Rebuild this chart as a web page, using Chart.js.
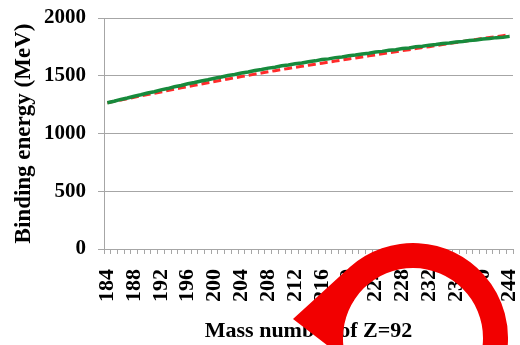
<!DOCTYPE html>
<html>
<head>
<meta charset="utf-8">
<script src="https://cdn.jsdelivr.net/npm/chart.js@4/dist/chart.umd.min.js"></script>
<style>
	html, body { margin: 0; padding: 0; background: #fff; }
	#wrap { width: 520px; height: 345px; position: relative; }
</style>
</head>
<body>
<div id="wrap"><canvas id="bindingplot" width="520" height="345"></canvas></div>
<script>
// Mass numbers for Z=92 (x categories)
const massNumbers = [];
for (let a = 184; a <= 244; a++) massNumbers.push(a);

// Binding energy (MeV) - solid green line
const bindingGreen = [
	1266, 1279, 1295, 1307, 1323, 1335, 1351, 1362, 1378, 1389,
	1405, 1416, 1431, 1441, 1455, 1465, 1479, 1489, 1502, 1511,
	1524, 1533, 1546, 1554, 1566, 1574, 1586, 1593, 1604, 1611,
	1622, 1629, 1640, 1646, 1657, 1663, 1673, 1679, 1689, 1695,
	1705, 1711, 1721, 1726, 1736, 1741, 1751, 1756, 1765, 1770,
	1779, 1784, 1792, 1797, 1805, 1809, 1818, 1822, 1830, 1834,
	1841
];

// Binding energy (MeV) - dashed red line
const bindingRed = [
	1266, 1278, 1290, 1302, 1314, 1326, 1337, 1349, 1360, 1372,
	1383, 1395, 1406, 1417, 1428, 1439, 1450, 1461, 1472, 1482,
	1493, 1503, 1514, 1524, 1534, 1544, 1554, 1563, 1573, 1582,
	1591, 1600, 1609, 1618, 1627, 1636, 1645, 1654, 1663, 1672,
	1681, 1690, 1699, 1708, 1717, 1726, 1735, 1744, 1752, 1761,
	1770, 1779, 1788, 1797, 1806, 1815, 1823, 1831, 1839, 1847,
	1855
];

const yTicks = [0, 500, 1000, 1500, 2000];

const axisColor = '#a6a6a6';
const textColor = '#000000';
Chart.defaults.font.family = "'Liberation Serif', 'Times New Roman', serif";
Chart.defaults.font.weight = 'bold';
Chart.defaults.color = textColor;

// Red overlay shape drawn over the lower right of the picture
const overlayPlugin = {
	id: 'overlay',
	afterDraw(chart) {
		const ctx = chart.ctx;
		const cx = 413, cy = 338, rOut = 95, rIn = 70;
		ctx.save();
		ctx.fillStyle = '#f20000';
		ctx.beginPath();
		ctx.moveTo(293, 319);
		ctx.lineTo(cx + rOut * Math.cos(-2.297), cy + rOut * Math.sin(-2.297));
		ctx.arc(cx, cy, rOut, -2.297, 0.2, false);
		ctx.lineTo(cx + rIn * Math.cos(0.2), cy + rIn * Math.sin(0.2));
		ctx.arc(cx, cy, rIn, 0.2, 2.82 - 2 * Math.PI, true);
		ctx.closePath();
		ctx.fill();
		ctx.restore();
	}
};

var bindingplot = new Chart("bindingplot", {
	type: "line",
	data: {
		labels: massNumbers,
		datasets: [{
			data: bindingGreen,
			borderColor: '#178a3c',
			borderWidth: 3.5,
			pointRadius: 0,
			fill: false,
			tension: 0
		}, {
			data: bindingRed,
			borderColor: '#ff2b2b',
			borderWidth: 3,
			borderDash: [8, 4],
			pointRadius: 0,
			fill: false,
			tension: 0
		}]
	},
	options: {
		animation: false,
		responsive: false,
		layout: {
			padding: { top: 0, right: 7, left: 4, bottom: 0 }
		},
		plugins: {
			legend: { display: false },
			tooltip: { enabled: false }
		},
		scales: {
			x: {
				type: 'category',
				offset: true,
				afterFit: function (scale) {
					// rotated labels need hardly any side room
					scale.paddingLeft = 0;
					scale.paddingRight = 0;
					scale.height = 96;
				},
				title: {
					display: true,
					text: 'Mass number of Z=92',
					font: { size: 22, weight: 'bold' },
					padding: { top: 4, bottom: 0 }
				},
				ticks: {
					autoSkip: false,
					minRotation: 90,
					maxRotation: 90,
					padding: 15,
					font: { size: 22, weight: 'bold' },
					callback: function (val, idx) {
						return idx % 4 === 0 ? this.getLabelForValue(val) : '';
					}
				},
				grid: {
					offset: true,
					drawOnChartArea: false,
					tickLength: 5,
					color: axisColor
				},
				border: { color: axisColor }
			},
			y: {
				min: 0,
				max: 2000,
				afterBuildTicks: function (axis) {
					axis.ticks = yTicks.map(v => ({ value: v }));
				},
				afterFit: function (scale) {
					scale.width = 100;
					scale.paddingTop = 18;
				},
				title: {
					display: true,
					text: 'Binding energy (MeV)',
					font: { size: 23, weight: 'bold' },
					padding: { top: 6, bottom: 0 }
				},
				ticks: {
					padding: 12,
					font: { size: 21, weight: 'bold' },
					callback: function (val) {
						return String(val);
					}
				},
				grid: {
					color: axisColor,
					tickLength: 6
				},
				border: { color: axisColor }
			}
		}
	},
	plugins: [overlayPlugin]
});
</script>
</body>
</html>
